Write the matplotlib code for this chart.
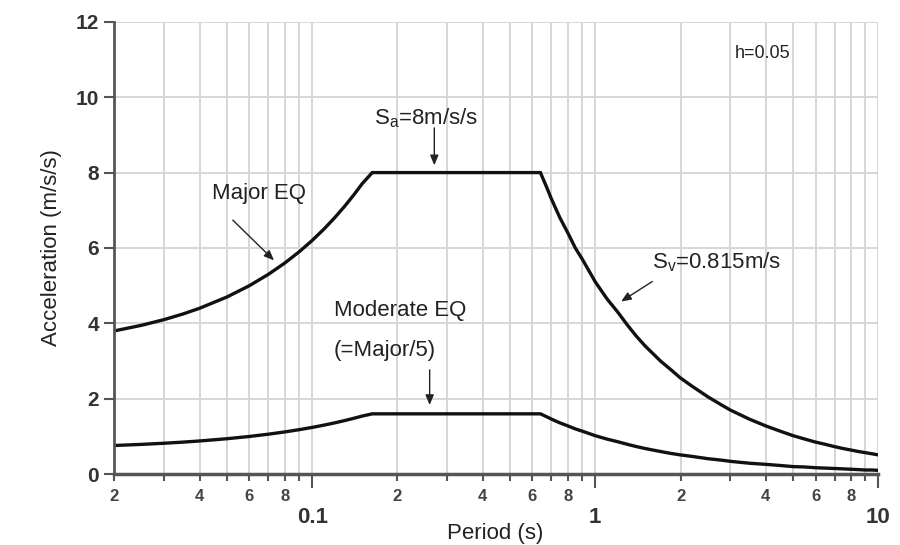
import matplotlib
matplotlib.use("Agg")
import matplotlib.pyplot as plt
from matplotlib.ticker import FixedLocator, FixedFormatter

plt.rcParams["font.family"] = ["Liberation Sans", "DejaVu Sans"]

# values
period = [0.02, 0.025, 0.03, 0.035, 0.04, 0.05, 0.06, 0.07, 0.08, 0.09, 0.10, 0.11,
          0.12, 0.13, 0.14, 0.15, 0.163,
          0.3, 0.5, 0.64, 0.67, 0.7, 0.75, 0.8, 0.85, 0.9, 1.0, 1.1, 1.2, 1.3,
          1.4, 1.5, 1.7, 1.85, 2.0, 2.2, 2.5, 2.8, 3.0, 3.5, 4.0, 4.5, 5.0,
          5.5, 6.0, 6.5, 7.0, 7.5, 8.0, 8.5, 9.0, 9.5, 10.0]
major_eq = [3.8, 3.95, 4.1, 4.25, 4.4, 4.7, 5.0, 5.3, 5.6, 5.9, 6.2, 6.5,
            6.8, 7.1, 7.4, 7.7, 8.0,
            8.0, 8.0, 8.0, 7.65, 7.3, 6.8, 6.4, 6.0, 5.7, 5.1, 4.65, 4.3, 3.95,
            3.65, 3.4, 3.0, 2.77, 2.55, 2.33, 2.05, 1.83, 1.7, 1.46, 1.28, 1.14, 1.02,
            0.93, 0.85, 0.79, 0.73, 0.68, 0.64, 0.6, 0.57, 0.54, 0.51]
moderate_eq = [0.76, 0.79, 0.82, 0.85, 0.88, 0.94, 1.0, 1.06, 1.12, 1.18, 1.24, 1.3,
               1.36, 1.42, 1.48, 1.54, 1.6,
               1.6, 1.6, 1.6, 1.53, 1.46, 1.36, 1.28, 1.2, 1.14, 1.02, 0.93, 0.86, 0.79,
               0.73, 0.68, 0.6, 0.55, 0.51, 0.47, 0.41, 0.37, 0.34, 0.29, 0.26, 0.23, 0.2,
               0.19, 0.17, 0.16, 0.15, 0.14, 0.13, 0.12, 0.11, 0.11, 0.1]

y_ticks = [0, 2, 4, 6, 8, 10, 12]
major_x = [0.1, 1, 10]
major_x_labels = ["0.1", "1", "10"]
minor_x = [m * d for d in (0.01, 0.1, 1) for m in range(2, 10)]
minor_x_labels = [str(m) if m % 2 == 0 else "" for d in (0.01, 0.1, 1) for m in range(2, 10)]

fig = plt.figure(figsize=(9, 5.45), dpi=100)
ax = fig.add_axes([0.127, 0.130, 0.849, 0.830])

ax.plot(period, major_eq, color="#111111", lw=2.4, solid_joinstyle="miter")
ax.plot(period, moderate_eq, color="#111111", lw=2.4, solid_joinstyle="miter")

ax.set_xscale("log")
ax.set_xlim(0.02, 10)
ax.set_ylim(0, 12)
ax.set_yticks(y_ticks)
ax.xaxis.set_major_locator(FixedLocator(major_x))
ax.xaxis.set_major_formatter(FixedFormatter(major_x_labels))
ax.xaxis.set_minor_locator(FixedLocator(minor_x))
ax.xaxis.set_minor_formatter(FixedFormatter(minor_x_labels))

ax.grid(True, which="both", color="#d6d6d6", lw=1.4)
ax.set_axisbelow(True)
for s in ("top", "right"):
    ax.spines[s].set_visible(False)
ax.spines["left"].set_color("#555555")
ax.spines["left"].set_linewidth(2)
ax.spines["bottom"].set_color("#555555")
ax.spines["bottom"].set_linewidth(2.5)

ax.tick_params(axis="y", length=7, width=1.5, color="#555555", labelsize=15,
               labelcolor="#333333", pad=4)
ax.tick_params(axis="x", which="major", length=10, width=1.5, color="#555555",
               labelsize=16, labelcolor="#333333", pad=14)
ax.tick_params(axis="x", which="minor", length=5, width=1.5, color="#555555",
               labelsize=12, labelcolor="#444444", pad=6)
for lab in ax.get_xticklabels(which="both") + ax.get_yticklabels():
    lab.set_fontweight("bold")

ax.set_ylabel("Acceleration (m/s/s)", fontsize=16, color="#222222", labelpad=10)
fig.text(0.55, 0.002, "Period (s)", fontsize=16, color="#222222",
         ha="center", va="bottom")

arrow = dict(arrowstyle="-|>,head_length=0.6,head_width=0.25", color="#222222", lw=1)
ax.text(0.0648, 7.45, "Major EQ", fontsize=16, ha="center", va="center", color="#222222")
ax.annotate("", xy=(0.0745, 5.62), xytext=(0.0516, 6.79), arrowprops=arrow)

ax.text(0.166, 9.44, "S$_{\\mathregular{a}}$=8m/s/s", fontsize=16, ha="left",
        va="center", color="#222222")
ax.annotate("", xy=(0.27, 8.12), xytext=(0.27, 9.26), arrowprops=arrow)

ax.text(3.11, 11.17, "h=0.05", fontsize=13, ha="left", va="center", color="#222222")

ax.text(1.59, 5.62, "S$_{\\mathregular{v}}$=0.815m/s", fontsize=16, ha="left",
        va="center", color="#222222")
ax.annotate("", xy=(1.21, 4.54), xytext=(1.62, 5.15), arrowprops=arrow)

ax.text(0.119, 4.35, "Moderate EQ", fontsize=16, ha="left", va="center", color="#222222")
ax.text(0.119, 3.29, "(=Major/5)", fontsize=16, ha="left", va="center", color="#222222")
ax.annotate("", xy=(0.26, 1.76), xytext=(0.26, 2.84), arrowprops=arrow)

plt.savefig("out.png", dpi=100)
